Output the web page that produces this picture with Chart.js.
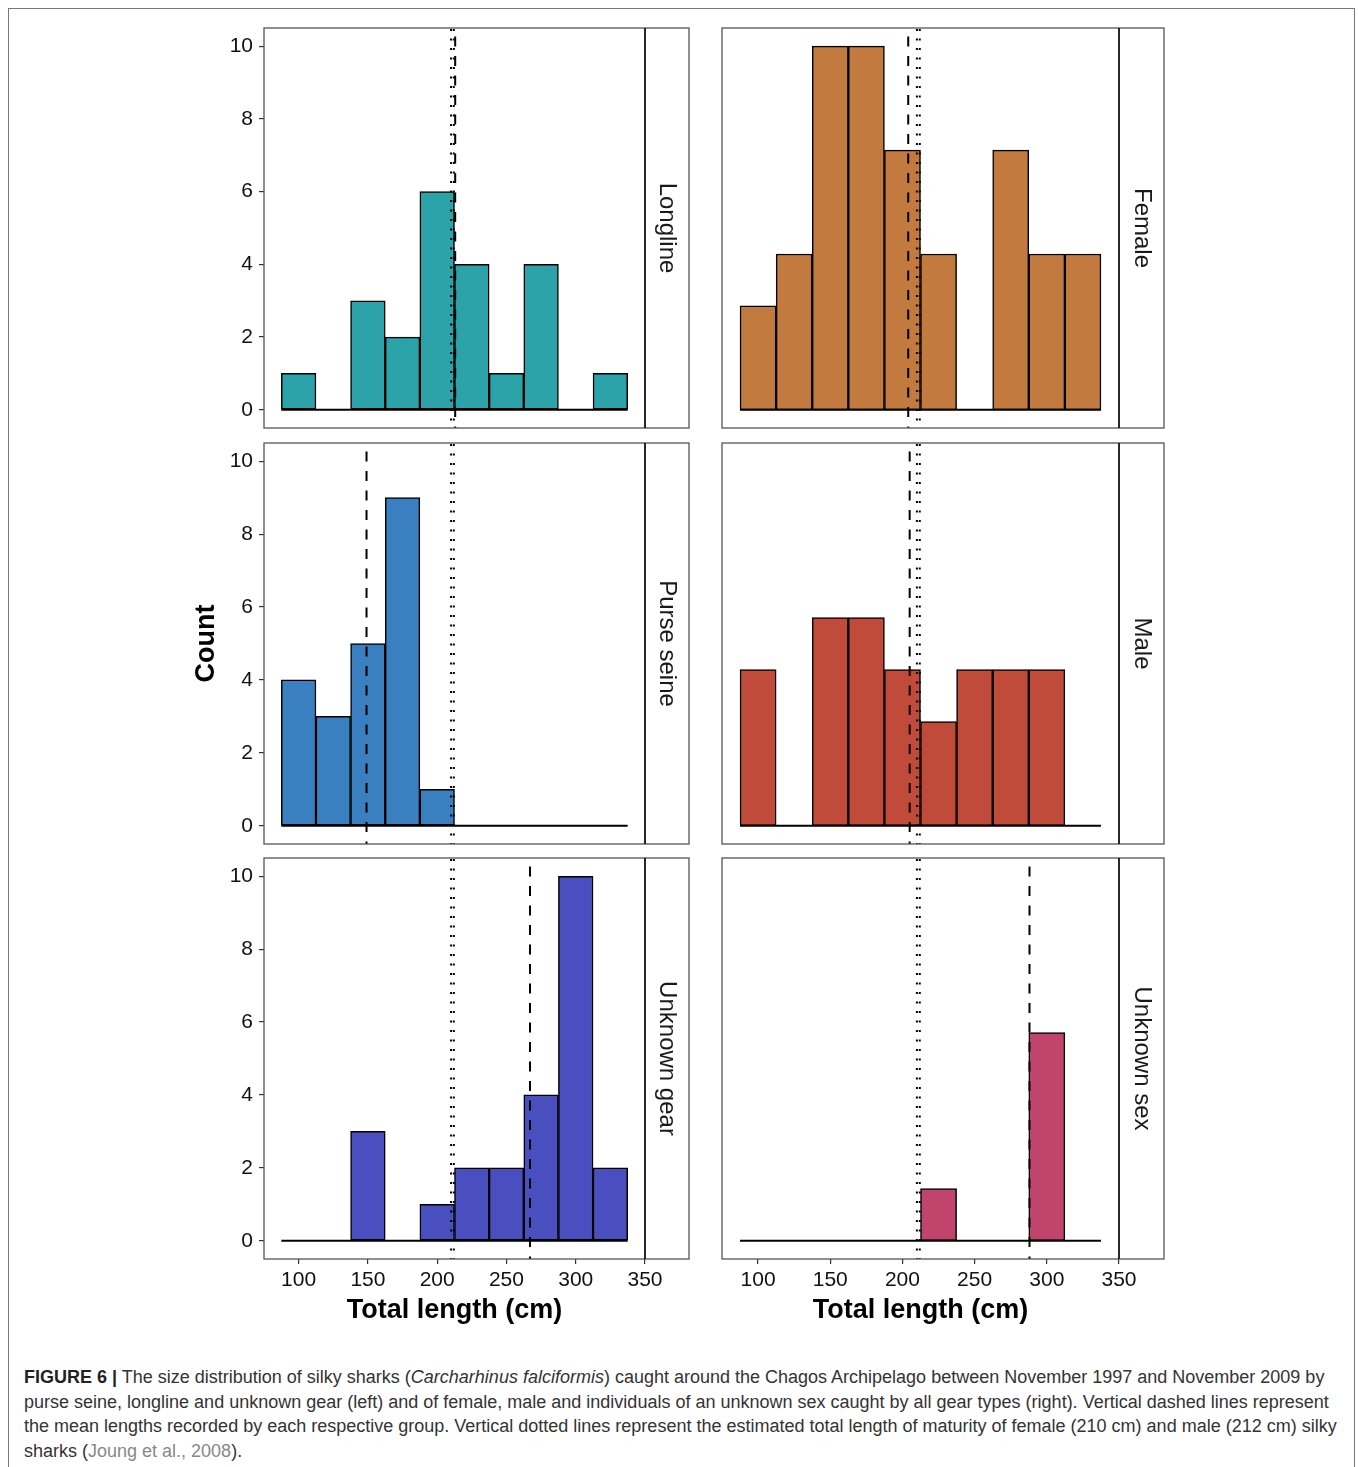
<!DOCTYPE html>
<html>
<head>
<meta charset="utf-8">
<script src="https://cdn.jsdelivr.net/npm/chart.js@4.4.1/dist/chart.umd.min.js"></script>
<style>
  body { margin: 0; background: #fff; width: 1358px; height: 1467px; position: relative; overflow: hidden;
         font-family: "Liberation Sans", Arial, sans-serif; }
  #frame { position: absolute; left: 8px; top: 8px; width: 1347px; height: 1480px; border: 1px solid #777; box-sizing: border-box; }
  canvas { position: absolute; }
  #caption { position: absolute; left: 24px; top: 1365px; font-size: 18px; line-height: 24.7px; color: #333; white-space: nowrap; }
  #caption b { color: #222; }
  #caption .ref { color: #888; }
</style>
</head>
<body>
<div id="frame"></div>

<canvas id="c0" width="514" height="416" style="left:186px;top:20px"></canvas>
<canvas id="c1" width="514" height="417" style="left:186px;top:435px"></canvas>
<canvas id="c2" width="514" height="481" style="left:186px;top:850px"></canvas>
<canvas id="c3" width="480" height="416" style="left:700px;top:20px"></canvas>
<canvas id="c4" width="480" height="417" style="left:700px;top:435px"></canvas>
<canvas id="c5" width="480" height="481" style="left:700px;top:850px"></canvas>

<div id="caption">
<b>FIGURE 6 |</b> The size distribution of silky sharks (<i>Carcharhinus falciformis</i>) caught around the Chagos Archipelago between November 1997 and November 2009 by<br>
purse seine, longline and unknown gear (left) and of female, male and individuals of an unknown sex caught by all gear types (right). Vertical dashed lines represent<br>
the mean lengths recorded by each respective group. Vertical dotted lines represent the estimated total length of maturity of female (210 cm) and male (212 cm) silky<br>
sharks (<span class="ref">Joung et al., 2008</span>).
</div>

<script>
// 25 cm bins, bin centres
const binCenters = [100, 125, 150, 175, 200, 225, 250, 275, 300, 325];
const binWidth = 25;
const xTicks = [100, 150, 200, 250, 300, 350];
const countTicks = [0, 2, 4, 6, 8, 10];
const maturity = [210, 212]; // female, male

// counts per bin
const longline    = [1, 0, 3, 2, 6, 4, 1, 4, 0, 1];
const purseSeine  = [4, 3, 5, 9, 1, 0, 0, 0, 0, 0];
const unknownGear = [0, 0, 3, 0, 1, 2, 2, 4, 10, 2];
const female      = [2, 3, 7, 7, 5, 3, 0, 5, 3, 3];
const male        = [3, 0, 4, 4, 3, 2, 3, 3, 3, 0];
const unknownSex  = [0, 0, 0, 0, 0, 1, 0, 0, 4, 0];

const panelNames  = ['Longline', 'Purse seine', 'Unknown gear', 'Female', 'Male', 'Unknown sex'];
const meanLengths = [213, 149, 267, 204, 205, 288];
const panelColors = ['#2ba3a8', '#3a7fbf', '#4a4fbf', '#c27a3f', '#c04b3b', '#c0446b'];

Chart.defaults.font.family = '"Liberation Sans", Arial, sans-serif';
Chart.defaults.color = '#111';

const panelFrame = {
  id: 'panelFrame',
  afterDraw(chart, args, opts) {
    const { ctx, chartArea: a } = chart;
    ctx.save();
    ctx.strokeStyle = '#555';
    ctx.lineWidth = 1.3;
    ctx.strokeRect(a.left, a.top, a.width + opts.strip, a.height);
    ctx.strokeStyle = '#111';
    ctx.lineWidth = 1.8;
    ctx.beginPath();
    ctx.moveTo(a.right, a.top);
    ctx.lineTo(a.right, a.bottom);
    ctx.stroke();
    ctx.translate(a.right + opts.strip / 2, (a.top + a.bottom) / 2);
    ctx.rotate(Math.PI / 2);
    ctx.fillStyle = '#1a1a1a';
    ctx.font = '24px "Liberation Sans", Arial, sans-serif';
    ctx.textAlign = 'center';
    ctx.textBaseline = 'middle';
    ctx.fillText(opts.label, 0, 0);
    ctx.restore();
  }
};

const xLo = binCenters[0] - binWidth / 2;
const xHi = binCenters[binCenters.length - 1] + binWidth / 2;
const xPad = (xHi - xLo) * 0.05;

function vline(x, dash, order) {
  return { type: 'line', data: [{ x: x, y: -1e3 }, { x: x, y: 1e3 }], borderColor: '#000', borderWidth: 2,
           borderDash: dash, pointRadius: 0, order: order };
}

function makePanel(id, counts, idx, col, row, colMax) {
  const left = col === 0;
  const bottom = row === 2;
  const yMin = -colMax * 0.05, yMax = colMax * 1.05;
  const datasets = [
    vline(meanLengths[idx], [10, 9.5], 0),
    vline(maturity[0], [2, 7.5], 1),
    vline(maturity[1], [2, 7.5], 1),
    { type: 'line', data: [{ x: xLo, y: 0 }, { x: xHi, y: 0 }], borderColor: '#000', borderWidth: 2,
      pointRadius: 0, order: 2 },
    { type: 'bar', data: binCenters.map((c, i) => ({ x: c, y: counts[i] })), backgroundColor: panelColors[idx],
      borderColor: '#000', borderWidth: 1.5, borderSkipped: false, barPercentage: 1, categoryPercentage: 1, order: 3 }
  ];
  new Chart(document.getElementById(id), {
    type: 'bar',
    data: { datasets },
    options: {
      responsive: false,
      animation: false,
      events: [],
      layout: { padding: { top: 8, bottom: bottom ? 0 : 8, left: left ? 0 : 22, right: left ? 55 : 61 } },
      plugins: { legend: { display: false }, tooltip: { enabled: false },
                 panelFrame: { label: panelNames[idx], strip: left ? 44 : 45 } },
      scales: {
        x: {
          type: 'linear', min: xLo - xPad, max: xHi + xPad, offset: false,
          display: bottom,
          afterBuildTicks: s => { s.ticks = xTicks.map(v => ({ value: v })); },
          afterFit: s => {
            if (bottom) s.height = 72;
            s.paddingLeft = 0; s.paddingRight = 0;
          },
          grid: { offset: false, drawOnChartArea: false, drawTicks: true, tickLength: 5, color: '#333', lineWidth: 1.2 },
          border: { display: false },
          ticks: { font: { size: 21 }, color: '#111', padding: 4, maxRotation: 0 },
          title: { display: true, text: 'Total length (cm)', font: { size: 27, weight: 'bold' }, color: '#000',
                   padding: { top: 4, bottom: 4 } }
        },
        y: {
          min: yMin, max: yMax,
          display: left,
          afterBuildTicks: s => { s.ticks = countTicks.map(v => ({ value: v })); },
          afterFit: s => {
            s.width = left ? 78 : 0;
            s.paddingTop = 0; s.paddingBottom = 0;
          },
          grid: { drawOnChartArea: false, drawTicks: true, tickLength: 5, color: '#333', lineWidth: 1.2 },
          border: { display: false },
          ticks: { font: { size: 21 }, color: '#111', padding: 6 },
          title: { display: left && row === 1, text: 'Count', font: { size: 27, weight: 'bold' }, color: '#000' }
        }
      }
    },
    plugins: [panelFrame]
  });
}

const leftMax = Math.max(...longline, ...purseSeine, ...unknownGear);
const rightMax = Math.max(...female, ...male, ...unknownSex);

makePanel('c0', longline, 0, 0, 0, leftMax);
makePanel('c1', purseSeine, 1, 0, 1, leftMax);
makePanel('c2', unknownGear, 2, 0, 2, leftMax);
makePanel('c3', female, 3, 1, 0, rightMax);
makePanel('c4', male, 4, 1, 1, rightMax);
makePanel('c5', unknownSex, 5, 1, 2, rightMax);
</script>
</body>
</html>
